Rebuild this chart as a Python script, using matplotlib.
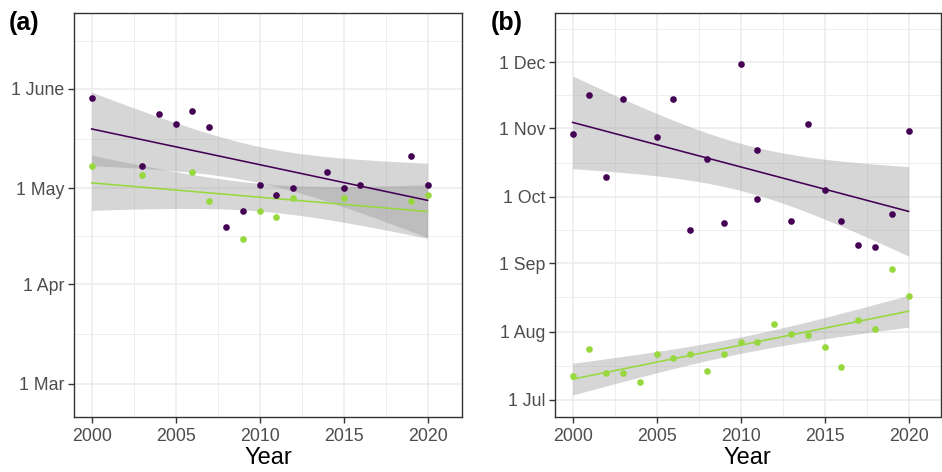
import numpy as np
import matplotlib
matplotlib.use("Agg")
import matplotlib.pyplot as plt
from matplotlib.ticker import FixedLocator

plt.rcParams['font.family'] = ['Liberation Sans', 'DejaVu Sans']

# ---------------- data (day of year) ----------------
# Panel (a)
a_purple_years = [2000, 2003, 2004, 2005, 2006, 2007, 2008, 2009, 2010, 2011, 2012, 2014, 2015, 2016, 2019, 2020]
a_purple_days = [149.1, 128.1, 144.1, 141.1, 145.2, 140.2, 109.0, 114.0, 122.0, 119.0, 121.0, 126.1, 121.0, 122.0, 131.1, 122.0]
a_green_years = [2000, 2003, 2006, 2007, 2009, 2010, 2011, 2012, 2015, 2019, 2020]
a_green_days = [128.1, 125.1, 126.1, 117.0, 105.1, 114.0, 112.0, 118.0, 118.0, 117.0, 119.0]

# Panel (b)
b_purple_years = [2000, 2001, 2002, 2003, 2005, 2006, 2007, 2008, 2009, 2010, 2011, 2011, 2013, 2014, 2015, 2016, 2017, 2018, 2019, 2020]
b_purple_days = [302.2, 320.0, 283.1, 318.1, 301.1, 318.1, 259.1, 291.0, 262.1, 334.1, 295.1, 273.0, 263.0, 307.0, 277.1, 263.0, 252.2, 251.1, 266.1, 304.0]
b_green_years = [2000, 2001, 2002, 2003, 2004, 2005, 2006, 2007, 2008, 2009, 2010, 2011, 2012, 2013, 2014, 2015, 2016, 2017, 2018, 2019, 2020]
b_green_days = [193.0, 205.1, 194.1, 194.1, 190.2, 203.0, 201.1, 203.0, 195.2, 203.0, 208.2, 208.2, 216.2, 212.1, 211.2, 206.0, 197.1, 218.1, 214.2, 241.1, 229.0]

year_ticks = [2000, 2005, 2010, 2015, 2020]
a_tick_days = [60, 91, 121, 152]
a_tick_labels = ["1 Mar", "1 Apr", "1 May", "1 June"]
b_tick_days = [182, 213, 244, 274, 305, 335]
b_tick_labels = ["1 Jul", "1 Aug", "1 Sep", "1 Oct", "1 Nov", "1 Dec"]

PURPLE = "#440154"
GREEN = "#97D83F"

T975 = {9: 2.2622, 14: 2.1448, 18: 2.1009, 19: 2.0930}


def smooth(ax, x, y, color):
    x = np.asarray(x, float)
    y = np.asarray(y, float)
    n = len(x)
    b, a0 = np.polyfit(x, y, 1)
    xs = np.linspace(x.min(), x.max(), 80)
    yhat = a0 + b * xs
    resid = y - (a0 + b * x)
    s = np.sqrt(np.sum(resid ** 2) / (n - 2))
    sxx = np.sum((x - x.mean()) ** 2)
    se = s * np.sqrt(1.0 / n + (xs - x.mean()) ** 2 / sxx)
    t = T975[n - 2]
    ax.fill_between(xs, yhat - t * se, yhat + t * se, color="#999999", alpha=0.4, lw=0, zorder=2)
    ax.plot(xs, yhat, color=color, lw=1.15, zorder=3)


def style(ax, ydays, ylabels, ylim):
    ax.set_xlim(1998.95, 2022.05)
    ax.set_ylim(*ylim)
    ax.set_xticks(year_ticks)
    ax.set_xticklabels([str(v) for v in year_ticks])
    ax.set_yticks(ydays)
    ax.set_yticklabels(ylabels)
    xminor = [2002.5, 2007.5, 2012.5, 2017.5]
    ext = [ydays[0] - (ydays[1] - ydays[0])] + list(ydays) + [ydays[-1] + 30]
    yminor = [(ext[i] + ext[i + 1]) / 2 for i in range(len(ext) - 1)]
    ax.xaxis.set_minor_locator(FixedLocator(xminor))
    ax.yaxis.set_minor_locator(FixedLocator(yminor))
    ax.grid(which="major", color="#EBEBEB", lw=1.1, zorder=0)
    ax.grid(which="minor", color="#EBEBEB", lw=0.6, zorder=0)
    ax.set_axisbelow(True)
    ax.tick_params(which="minor", length=0)
    ax.tick_params(which="major", length=4, width=1, color="#333333",
                   labelsize=12.8, labelcolor="#4D4D4D", pad=3)
    ax.tick_params(axis="x", which="major", pad=4)
    for sp in ax.spines.values():
        sp.set_color("#333333")
        sp.set_linewidth(1.0)
    ax.set_xlabel("Year", fontsize=17, color="black", labelpad=1)


fig = plt.figure(figsize=(9.42, 4.72), dpi=100)
axa = fig.add_axes([74 / 942, 55 / 472, 388 / 942, 404 / 472])
axb = fig.add_axes([555 / 942, 55 / 472, 385.5 / 942, 404 / 472])

# panel a
smooth(axa, a_purple_years, a_purple_days, PURPLE)
smooth(axa, a_green_years, a_green_days, GREEN)
axa.scatter(a_purple_years, a_purple_days, s=23, color=PURPLE, zorder=4, lw=0)
axa.scatter(a_green_years, a_green_days, s=23, color=GREEN, zorder=4, lw=0)
style(axa, a_tick_days, a_tick_labels, (49.6, 175.7))

# panel b
smooth(axb, b_purple_years, b_purple_days, PURPLE)
smooth(axb, b_green_years, b_green_days, GREEN)
axb.scatter(b_purple_years, b_purple_days, s=23, color=PURPLE, zorder=4, lw=0)
axb.scatter(b_green_years, b_green_days, s=23, color=GREEN, zorder=4, lw=0)
style(axb, b_tick_days, b_tick_labels, (174.3, 357.2))
axb.set_xlim(1998.95, 2021.9)

fig.text(9 / 942, 1 - 23 / 472, "(a)", fontsize=18, fontweight="bold", va="center", ha="left")
fig.text(491 / 942, 1 - 23 / 472, "(b)", fontsize=18, fontweight="bold", va="center", ha="left")

fig.savefig("out.png", dpi=100)
